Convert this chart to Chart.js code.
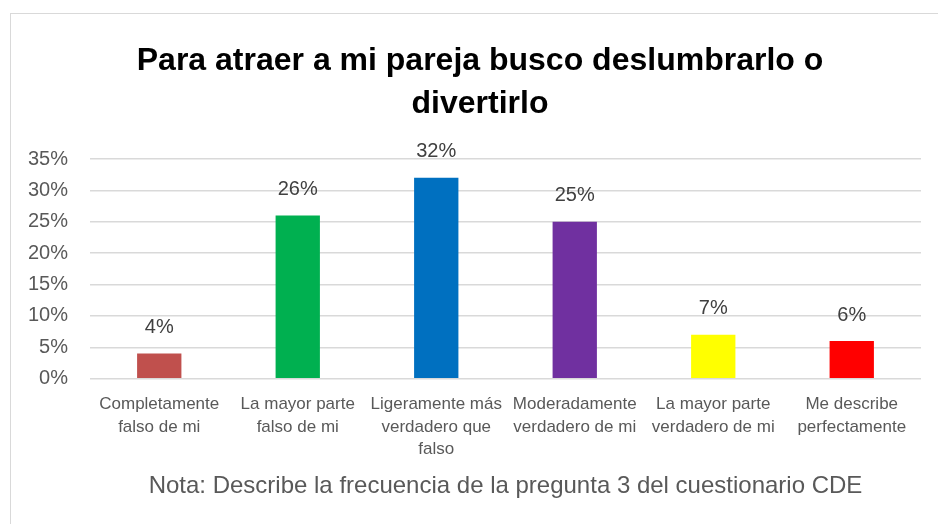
<!DOCTYPE html>
<html>
<head>
<meta charset="utf-8">
<script src="https://cdn.jsdelivr.net/npm/chart.js@4/dist/chart.umd.min.js"></script>
<style>
  html, body { margin: 0; padding: 0; background: #ffffff; }
  #wrap { width: 938px; height: 524px; position: relative; }
</style>
</head>
<body>
<div id="wrap"><canvas id="chartBar"></canvas></div>
<script>
// data
var categories = [
    ["Completamente", "falso de mi"],
    ["La mayor parte", "falso de mi"],
    ["Ligeramente más", "verdadero que", "falso"],
    ["Moderadamente", "verdadero de mi"],
    ["La mayor parte", "verdadero de mi"],
    ["Me describe", "perfectamente"]
];
var percentValues = [4, 26, 32, 25, 7, 6];
var barColors = ["#C0504D", "#00B050", "#0070C0", "#7030A0", "#FFFF00", "#FF0000"];
var tickLabels = ["0%", "5%", "10%", "15%", "20%", "25%", "30%", "35%"];
var titleLines = ["Para atraer a mi pareja busco deslumbrarlo o", "divertirlo"];
var noteText = "Nota: Describe la frecuencia de la pregunta 3 del cuestionario CDE";

// frame, title and footnote are drawn straight on the canvas
var frameAndText = {
    id: 'frameAndText',
    beforeDraw: function (chart) {
        var ctx = chart.ctx;
        ctx.save();
        ctx.strokeStyle = "#d9d9d9";
        ctx.lineWidth = 1;
        ctx.strokeRect(10.5, 13.5, 1000, 1000);
        ctx.restore();
    },
    afterDraw: function (chart) {
        var ctx = chart.ctx;
        var area = chart.chartArea;
        ctx.save();
        ctx.textAlign = "center";
        ctx.textBaseline = "middle";
        ctx.fillStyle = "#000000";
        ctx.font = "bold 32px 'Liberation Sans'";
        titleLines.forEach(function (line, i) {
            ctx.fillText(line, 480, 61 + i * 43);
        });
        ctx.fillStyle = "#595959";
        ctx.font = "24px 'Liberation Sans'";
        ctx.fillText(noteText, (area.left + area.right) / 2, 486);
        ctx.restore();
    }
};

var valueLabels = {
    id: 'valueLabels',
    afterDatasetsDraw: function (chart) {
        var ctx = chart.ctx;
        var meta = chart.getDatasetMeta(0);
        ctx.save();
        ctx.fillStyle = "#404040";
        ctx.font = "20px 'Liberation Sans'";
        ctx.textAlign = "center";
        ctx.textBaseline = "middle";
        meta.data.forEach(function (bar, i) {
            ctx.fillText(percentValues[i] + "%", bar.x, bar.y - 26);
        });
        ctx.restore();
    }
};

function drawChartBar() {
    var ctxChartBar = document.getElementById("chartBar");
    var chartBar = new Chart(ctxChartBar, {
        type: 'bar',
        data: {
            labels: categories,
            datasets: [{
                data: percentValues,
                backgroundColor: barColors,
                barPercentage: 0.32,
                categoryPercentage: 1
            }]
        },
        plugins: [frameAndText, valueLabels],
        options: {
            responsive: true,
            maintainAspectRatio: false,
            animation: false,
            layout: { padding: { left: 10, right: 17, top: 159, bottom: 57 } },
            plugins: {
                legend: { display: false },
                tooltip: { enabled: false },
                title: { display: false }
            },
            scales: {
                x: {
                    grid: { display: false },
                    border: { display: false },
                    ticks: {
                        color: "#595959",
                        font: { family: "'Liberation Sans'", size: 17, lineHeight: 1.3 },
                        padding: 7,
                        maxRotation: 0,
                        autoSkip: false
                    }
                },
                y: {
                    min: 0,
                    max: 35,
                    afterFit: function (scale) { scale.width = 80; },
                    grid: { color: "#d9d9d9", lineWidth: 1.5, drawTicks: false },
                    border: { display: false },
                    ticks: {
                        stepSize: 5,
                        color: "#595959",
                        font: { family: "'Liberation Sans'", size: 20 },
                        padding: 22,
                        callback: function (value, index) { return tickLabels[index]; }
                    }
                }
            }
        }
    });
}

drawChartBar();
</script>
</body>
</html>
